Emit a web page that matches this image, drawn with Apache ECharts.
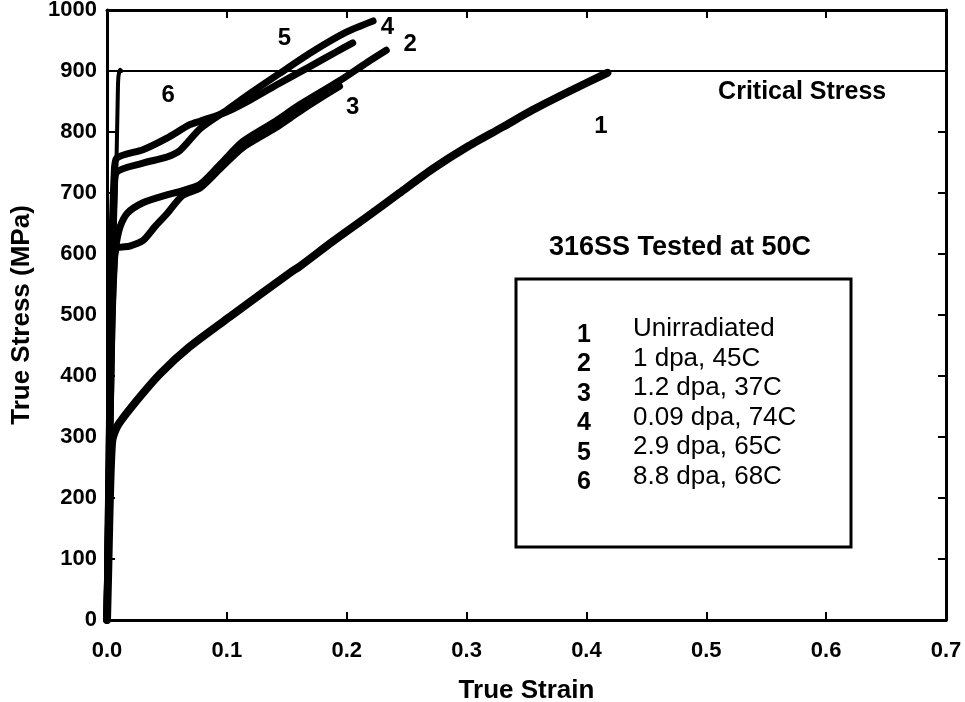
<!DOCTYPE html>
<html><head><meta charset="utf-8">
<script src="https://cdn.jsdelivr.net/npm/echarts@6/dist/echarts.min.js"></script>
<style>html,body{margin:0;padding:0;background:#fff}#c{width:965px;height:702px}</style>
</head><body><div id="c"></div>
<script>
// True strain / true stress (MPa) curves
const curve1 = [[0,0],[0.001,80],[0.002,170],[0.003,240],[0.004,285],[0.005,300],[0.010,322],[0.0275,366],[0.045,405],[0.069,448],[0.1025,497],[0.1525,569],[0.161,580],[0.188,620],[0.217,661],[0.244,700],[0.272,740],[0.300,775],[0.330,808],[0.355,836],[0.385,866],[0.4175,897]];
const curve2 = [[0,0],[0.002,250],[0.004,480],[0.006,590],[0.008,620],[0.011,645],[0.017,667],[0.030,684],[0.050,697],[0.058,701],[0.0775,714],[0.095,748],[0.113,784],[0.140,817],[0.161,845],[0.194,884],[0.217,914],[0.233,934]];
const curve3 = [[0,0],[0.002,250],[0.004,470],[0.006,580],[0.008,609],[0.019,613],[0.030,622],[0.040,645],[0.050,666],[0.063,696],[0.0775,708],[0.095,741],[0.113,774],[0.140,806],[0.161,834],[0.180,858],[0.194,875]];
const curve4 = [[0,0],[0.002,300],[0.004,560],[0.006,700],[0.008,734],[0.030,749],[0.050,759],[0.061,770],[0.078,806],[0.100,836],[0.120,864],[0.144,896],[0.170,930],[0.200,964],[0.222,982]];
const curve5 = [[0,0],[0.002,320],[0.004,600],[0.006,730],[0.008,757],[0.030,771],[0.050,790],[0.069,812],[0.078,818],[0.100,833],[0.120,853],[0.144,880],[0.170,908],[0.190,930],[0.205,946]];
const curve6 = [[0,0],[0.002,250],[0.004,450],[0.006,600],[0.008,760],[0.009,860],[0.0095,890],[0.011,902],[0.012,900]];
const criticalStress = 900;
const curveLabels = [[0.412,810,'1'],[0.253,943,'2'],[0.205,840,'3'],[0.234,971,'4'],[0.148,953,'5'],[0.051,860,'6']];
const criticalLabel = [[0.580,866,'Critical Stress']];
const legendTitle = '316SS Tested at 50C';
const legendNums = ['1','2','3','4','5','6'];
const legendTexts = ['Unirradiated','1 dpa, 45C','1.2 dpa, 37C','0.09 dpa, 74C','2.9 dpa, 65C','8.8 dpa, 68C'];
const xTicks = {min:0,max:0.7,interval:0.1};
const yTicks = {min:0,max:1000,interval:100};

const FONT = '"Liberation Sans", Arial, sans-serif';
const chart = echarts.init(document.getElementById('c'));

function lineSeries(d, w){
  return {type:'line', data:d, showSymbol:false, smooth:0.25, xAxisIndex:0, yAxisIndex:0,
    lineStyle:{color:'#000', width:w, cap:'round', join:'round'}, silent:true, animation:false};
}
const series = [
  lineSeries(curve1,8), lineSeries(curve2,7), lineSeries(curve3,7),
  lineSeries(curve4,7), lineSeries(curve5,7), lineSeries(curve6,4)
];
series[0].markLine = {symbol:'none', silent:true, animation:false, label:{show:false},
  lineStyle:{color:'#000', width:2, type:'solid'},
  data:[{yAxis:criticalStress}]};
const lblStyle = (size)=>({show:true, position:'inside', formatter:p=>p.value[2], color:'#000', opacity:1, fontFamily:FONT, fontWeight:'bold', fontSize:size});
series.push({type:'scatter', data:curveLabels, symbolSize:0, silent:true, animation:false, itemStyle:{opacity:1}, label:lblStyle(24)});
series.push({type:'scatter', data:criticalLabel, symbolSize:0, silent:true, animation:false, itemStyle:{opacity:1}, label:lblStyle(25)});

const axLine = {show:true, onZero:false, lineStyle:{color:'#000', width:3}};
const tick = {show:true, inside:true, length:8, lineStyle:{color:'#000', width:2}};
const option = {
  animation:false,
  backgroundColor:'#fff',
  grid:{left:107, right:19, top:10, bottom:82, containLabel:false, outerBoundsMode:'none'},
  xAxis:[
    {type:'value', position:'bottom', ...xTicks, axisLine:axLine, axisTick:tick, splitLine:{show:false},
     axisLabel:{color:'#000', fontFamily:FONT, fontWeight:'bold', fontSize:22, margin:20, formatter:v=>v.toFixed(1)},
     name:'True Strain', nameLocation:'middle', nameGap:58, nameTextStyle:{color:'#000', fontFamily:FONT, fontWeight:'bold', fontSize:26}},
    {type:'value', position:'top', ...xTicks, axisLine:axLine, axisTick:tick, axisLabel:{show:false}, splitLine:{show:false}}
  ],
  yAxis:[
    {type:'value', position:'left', ...yTicks, axisLine:axLine, axisTick:tick, splitLine:{show:false},
     axisLabel:{color:'#000', fontFamily:FONT, fontWeight:'bold', fontSize:22, margin:10, formatter:v=>String(v)},
     name:'True Stress (MPa)', nameLocation:'middle', nameGap:72, nameRotate:90, nameTextStyle:{color:'#000', fontFamily:FONT, fontWeight:'bold', fontSize:26}},
    {type:'value', position:'right', ...yTicks, axisLine:axLine, axisTick:tick, axisLabel:{show:false}, splitLine:{show:false}}
  ],
  series:series
};
const g = [{type:'text', x:680, y:248, style:{text:legendTitle, font:'bold 27px '+FONT, fill:'#000', align:'center', verticalAlign:'middle'}},
  {type:'rect', shape:{x:516, y:279, width:335, height:268}, style:{fill:'none', stroke:'#000', lineWidth:3}}];
legendNums.forEach((n,i)=>{
  g.push({type:'text', x:584, y:335+i*29.5, style:{text:n, font:'bold 25px '+FONT, fill:'#000', align:'center', verticalAlign:'middle'}});
  g.push({type:'text', x:633, y:329+i*29.5, style:{text:legendTexts[i], font:'26px '+FONT, fill:'#000', align:'left', verticalAlign:'middle'}});
});
option.graphic = g;
chart.setOption(option);
</script></body></html>
